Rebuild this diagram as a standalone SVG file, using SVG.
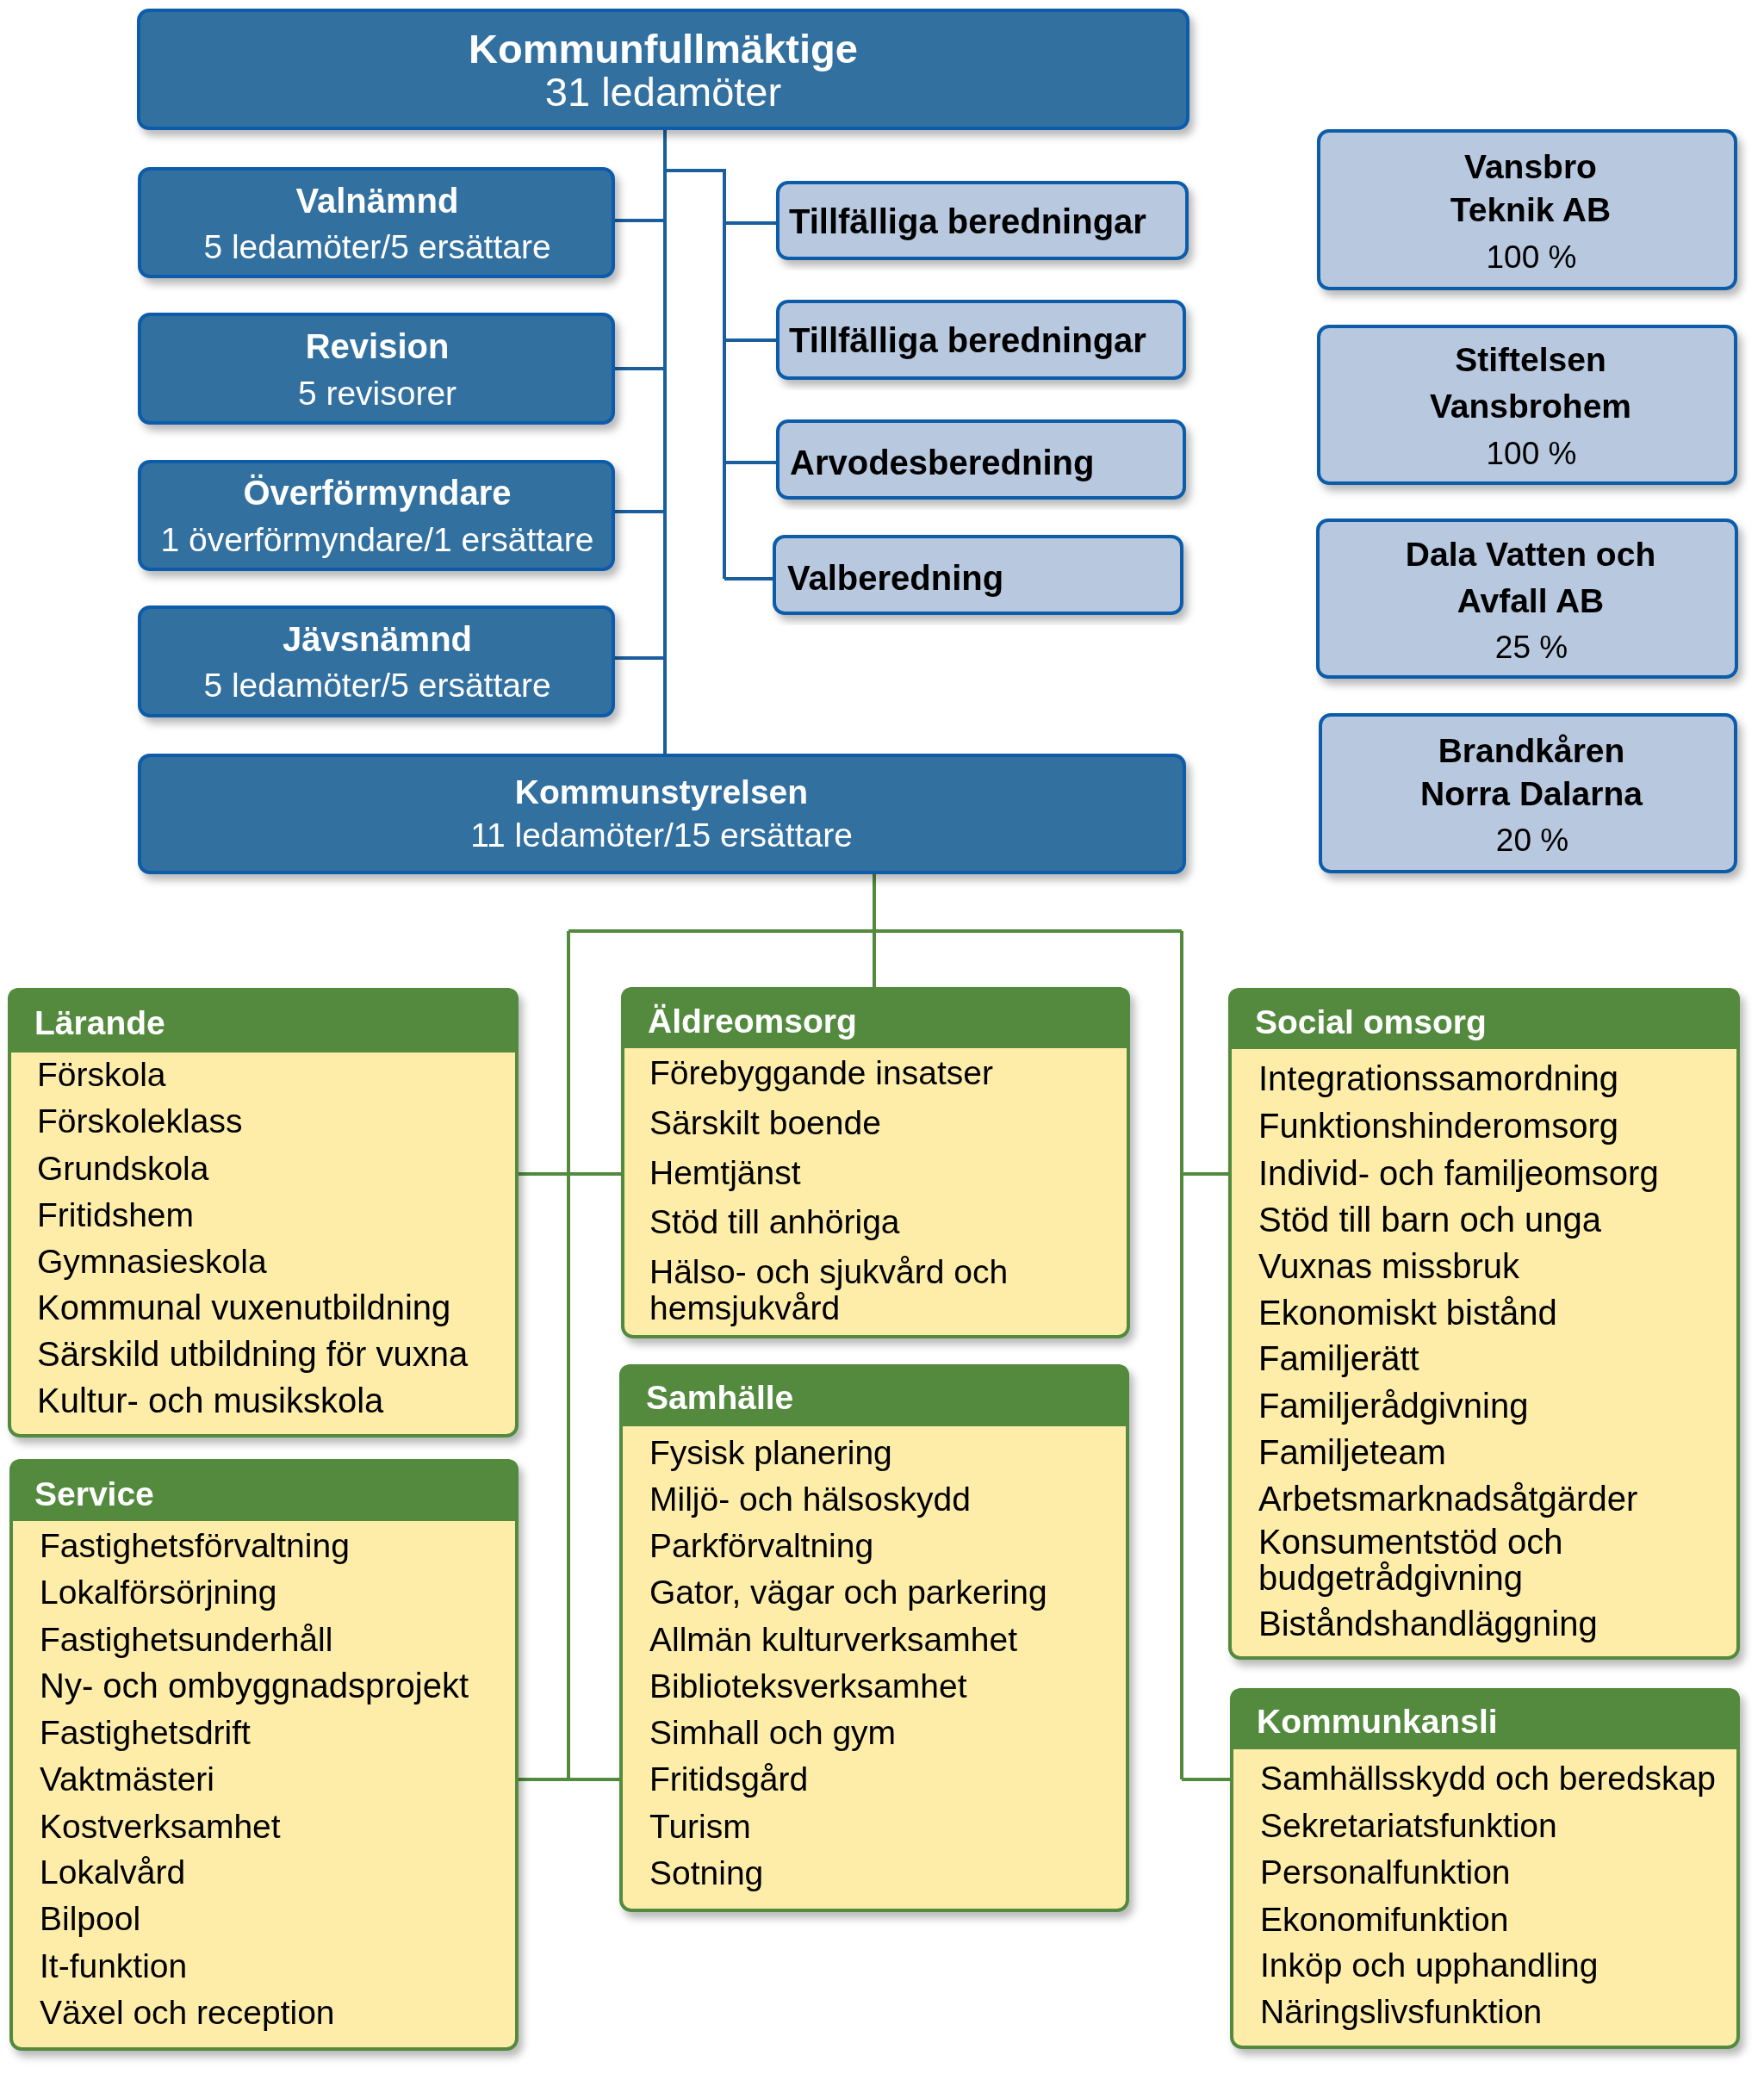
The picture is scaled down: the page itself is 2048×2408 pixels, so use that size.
<svg xmlns="http://www.w3.org/2000/svg" width="2048" height="2408" viewBox="0 0 2048 2408">
<defs>
<filter id="sh" x="-5%" y="-5%" width="115%" height="120%">
<feDropShadow dx="5" dy="7" stdDeviation="5" flood-color="#000" flood-opacity="0.28"/>
</filter>
<style>
.db{fill:#3270A0;stroke:#0F5CAA;stroke-width:4}
.lb{fill:#B8C8DF;stroke:#0F5CAA;stroke-width:4}
.gb{fill:#FDEDA9;stroke:#528A3E;stroke-width:4}
.gh{fill:#528A3E}
.bl{stroke:#1A5E9E;stroke-width:4;fill:none}
.gl{stroke:#528A3E;stroke-width:4;fill:none}
text{font-family:"Liberation Sans",Arial,sans-serif}
.wt{fill:#fff;font-weight:bold;text-anchor:middle}
.ws{fill:#fff;text-anchor:middle;font-size:39px}
.bt{fill:#000;font-weight:bold;font-size:40px}
.ct{fill:#000;font-weight:bold;font-size:39px;text-anchor:middle}
.cp{fill:#000;font-size:37px;text-anchor:middle}
.ht{fill:#fff;font-weight:bold;font-size:39px}
.it{fill:#000;font-size:39px}
.is{fill:#000;font-size:40px}
</style>
</defs>
<rect width="2048" height="2408" fill="#fff"/>

<g id="connectors">
<path class="bl" d="M772 149V878M712 256H772M712 428H772M712 594H772M712 764H772M772 198H841V672M841 259H903M841 395H903M841 537H903M841 672H899"/>
<path class="gl" d="M1015 1013V1148M660 1081H1372M660 1081V2066M1372 1081V2066M600 1363H723M1372 1363H1428M600 2066H721M1372 2066H1430"/>
</g>

<g id="kommunfullmaktige" filter="url(#sh)">
<rect class="db" x="161" y="12" width="1218" height="137" rx="12"/>
<text class="wt" x="770" y="73" font-size="47">Kommunfullmäktige</text>
<text class="ws" x="770" y="123" style="font-size:47px">31 ledamöter</text>
</g>

<g id="valnamnd" filter="url(#sh)">
<rect class="db" x="162" y="196" width="550" height="125" rx="12"/>
<text class="wt" x="438" y="247" font-size="40">Valnämnd</text>
<text class="ws" x="438" y="300">5 ledamöter/5 ersättare</text>
</g>
<g id="revision" filter="url(#sh)">
<rect class="db" x="162" y="365" width="550" height="126" rx="12"/>
<text class="wt" x="438" y="416" font-size="40">Revision</text>
<text class="ws" x="438" y="470">5 revisorer</text>
</g>
<g id="overformyndare" filter="url(#sh)">
<rect class="db" x="162" y="536" width="550" height="125" rx="12"/>
<text class="wt" x="438" y="586" font-size="40">Överförmyndare</text>
<text class="ws" x="438" y="640">1 överförmyndare/1 ersättare</text>
</g>
<g id="javsnamnd" filter="url(#sh)">
<rect class="db" x="162" y="705" width="550" height="126" rx="12"/>
<text class="wt" x="438" y="756" font-size="40">Jävsnämnd</text>
<text class="ws" x="438" y="809">5 ledamöter/5 ersättare</text>
</g>

<g id="tillfalliga1" filter="url(#sh)">
<rect class="lb" x="903" y="212" width="475" height="88" rx="12"/>
<text class="bt" x="916" y="271">Tillfälliga beredningar</text>
</g>
<g id="tillfalliga2" filter="url(#sh)">
<rect class="lb" x="903" y="350" width="472" height="89" rx="12"/>
<text class="bt" x="916" y="409">Tillfälliga beredningar</text>
</g>
<g id="arvodesberedning" filter="url(#sh)">
<rect class="lb" x="903" y="489" width="472" height="89" rx="12"/>
<text class="bt" x="917" y="551">Arvodesberedning</text>
</g>
<g id="valberedning" filter="url(#sh)">
<rect class="lb" x="899" y="623" width="473" height="89" rx="12"/>
<text class="bt" x="914" y="685">Valberedning</text>
</g>

<g id="kommunstyrelsen" filter="url(#sh)">
<rect class="db" x="162" y="877" width="1213" height="136" rx="12"/>
<text class="wt" x="768" y="933" font-size="39">Kommunstyrelsen</text>
<text class="ws" x="768" y="983">11 ledamöter/15 ersättare</text>
</g>

<g id="vansbro-teknik" filter="url(#sh)">
<rect class="lb" x="1531" y="152" width="484" height="183" rx="12"/>
<text class="ct" x="1777" y="207">Vansbro</text>
<text class="ct" x="1777" y="257">Teknik AB</text>
<text class="cp" x="1778" y="311">100 %</text>
</g>
<g id="stiftelsen" filter="url(#sh)">
<rect class="lb" x="1531" y="379" width="484" height="182" rx="12"/>
<text class="ct" x="1777" y="431">Stiftelsen</text>
<text class="ct" x="1777" y="485">Vansbrohem</text>
<text class="cp" x="1778" y="539">100 %</text>
</g>
<g id="dala-vatten" filter="url(#sh)">
<rect class="lb" x="1530" y="604" width="486" height="182" rx="12"/>
<text class="ct" x="1777" y="657">Dala Vatten och</text>
<text class="ct" x="1777" y="711">Avfall AB</text>
<text class="cp" x="1778" y="764">25 %</text>
</g>
<g id="brandkaren" filter="url(#sh)">
<rect class="lb" x="1533" y="830" width="482" height="182" rx="12"/>
<text class="ct" x="1778" y="885">Brandkåren</text>
<text class="ct" x="1778" y="935">Norra Dalarna</text>
<text class="cp" x="1779" y="988">20 %</text>
</g>

<g id="larande" filter="url(#sh)">
<rect class="gb" x="11" y="1149" width="589" height="518" rx="12"/>
<path class="gh" d="M9 1222V1161Q9 1147 23 1147H588Q602 1147 602 1161V1222Z"/>
<text class="ht" x="40" y="1201">Lärande</text>
<text class="it" x="43" y="1261">Förskola</text>
<text class="it" x="43" y="1315">Förskoleklass</text>
<text class="it" x="43" y="1370">Grundskola</text>
<text class="it" x="43" y="1424">Fritidshem</text>
<text class="it" x="43" y="1478">Gymnasieskola</text>
<text class="it" x="43" y="1532" style="font-size:40px">Kommunal vuxenutbildning</text>
<text class="it" x="43" y="1586" style="font-size:40px">Särskild utbildning för vuxna</text>
<text class="it" x="43" y="1640" style="font-size:40px">Kultur- och musikskola</text>
</g>

<g id="aldreomsorg" filter="url(#sh)">
<rect class="gb" x="723" y="1148" width="587" height="404" rx="12"/>
<path class="gh" d="M721 1217V1160Q721 1146 735 1146H1298Q1312 1146 1312 1160V1217Z"/>
<text class="ht" x="752" y="1199">Äldreomsorg</text>
<text class="it" x="754" y="1259">Förebyggande insatser</text>
<text class="it" x="754" y="1317">Särskilt boende</text>
<text class="it" x="754" y="1375">Hemtjänst</text>
<text class="it" x="754" y="1432">Stöd till anhöriga</text>
<text class="it" x="754" y="1490">Hälso- och sjukvård och</text>
<text class="it" x="754" y="1532">hemsjukvård</text>
</g>

<g id="samhalle" filter="url(#sh)">
<rect class="gb" x="721" y="1586" width="588" height="632" rx="12"/>
<path class="gh" d="M719 1656V1598Q719 1584 733 1584H1297Q1311 1584 1311 1598V1656Z"/>
<text class="ht" x="750" y="1636">Samhälle</text>
<text class="it" x="754" y="1700">Fysisk planering</text>
<text class="it" x="754" y="1754">Miljö- och hälsoskydd</text>
<text class="it" x="754" y="1808">Parkförvaltning</text>
<text class="it" x="754" y="1862">Gator, vägar och parkering</text>
<text class="it" x="754" y="1917">Allmän kulturverksamhet</text>
<text class="it" x="754" y="1971">Biblioteksverksamhet</text>
<text class="it" x="754" y="2025">Simhall och gym</text>
<text class="it" x="754" y="2079">Fritidsgård</text>
<text class="it" x="754" y="2134">Turism</text>
<text class="it" x="754" y="2188">Sotning</text>
</g>

<g id="service" filter="url(#sh)">
<rect class="gb" x="13" y="1696" width="587" height="683" rx="12"/>
<path class="gh" d="M11 1766V1708Q11 1694 25 1694H588Q602 1694 602 1708V1766Z"/>
<text class="ht" x="40" y="1748">Service</text>
<text class="it" x="46" y="1808">Fastighetsförvaltning</text>
<text class="it" x="46" y="1862">Lokalförsörjning</text>
<text class="it" x="46" y="1917">Fastighetsunderhåll</text>
<text class="it" x="46" y="1971" style="font-size:40px">Ny- och ombyggnadsprojekt</text>
<text class="it" x="46" y="2025">Fastighetsdrift</text>
<text class="it" x="46" y="2079">Vaktmästeri</text>
<text class="it" x="46" y="2134">Kostverksamhet</text>
<text class="it" x="46" y="2187">Lokalvård</text>
<text class="it" x="46" y="2241">Bilpool</text>
<text class="it" x="46" y="2296">It-funktion</text>
<text class="it" x="46" y="2350">Växel och reception</text>
</g>

<g id="social-omsorg" filter="url(#sh)">
<rect class="gb" x="1428" y="1149" width="590" height="776" rx="12"/>
<path class="gh" d="M1426 1218V1161Q1426 1147 1440 1147H2006Q2020 1147 2020 1161V1218Z"/>
<text class="ht" x="1457" y="1200">Social omsorg</text>
<text class="is" x="1461" y="1266">Integrationssamordning</text>
<text class="is" x="1461" y="1321">Funktionshinderomsorg</text>
<text class="is" x="1461" y="1376">Individ- och familjeomsorg</text>
<text class="is" x="1461" y="1430">Stöd till barn och unga</text>
<text class="is" x="1461" y="1484">Vuxnas missbruk</text>
<text class="is" x="1461" y="1538">Ekonomiskt bistånd</text>
<text class="is" x="1461" y="1591">Familjerätt</text>
<text class="is" x="1461" y="1646">Familjerådgivning</text>
<text class="is" x="1461" y="1700">Familjeteam</text>
<text class="is" x="1461" y="1754">Arbetsmarknadsåtgärder</text>
<text class="is" x="1461" y="1804">Konsumentstöd och</text>
<text class="is" x="1461" y="1846">budgetrådgivning</text>
<text class="is" x="1461" y="1899">Biståndshandläggning</text>
</g>

<g id="kommunkansli" filter="url(#sh)">
<rect class="gb" x="1430" y="1962" width="588" height="415" rx="12"/>
<path class="gh" d="M1428 2031V1974Q1428 1960 1442 1960H2006Q2020 1960 2020 1974V2031Z"/>
<text class="ht" x="1459" y="2012">Kommunkansli</text>
<text class="it" x="1463" y="2078">Samhällsskydd och beredskap</text>
<text class="it" x="1463" y="2133">Sekretariatsfunktion</text>
<text class="it" x="1463" y="2187">Personalfunktion</text>
<text class="it" x="1463" y="2242">Ekonomifunktion</text>
<text class="it" x="1463" y="2295">Inköp och upphandling</text>
<text class="it" x="1463" y="2349">Näringslivsfunktion</text>
</g>
</svg>
